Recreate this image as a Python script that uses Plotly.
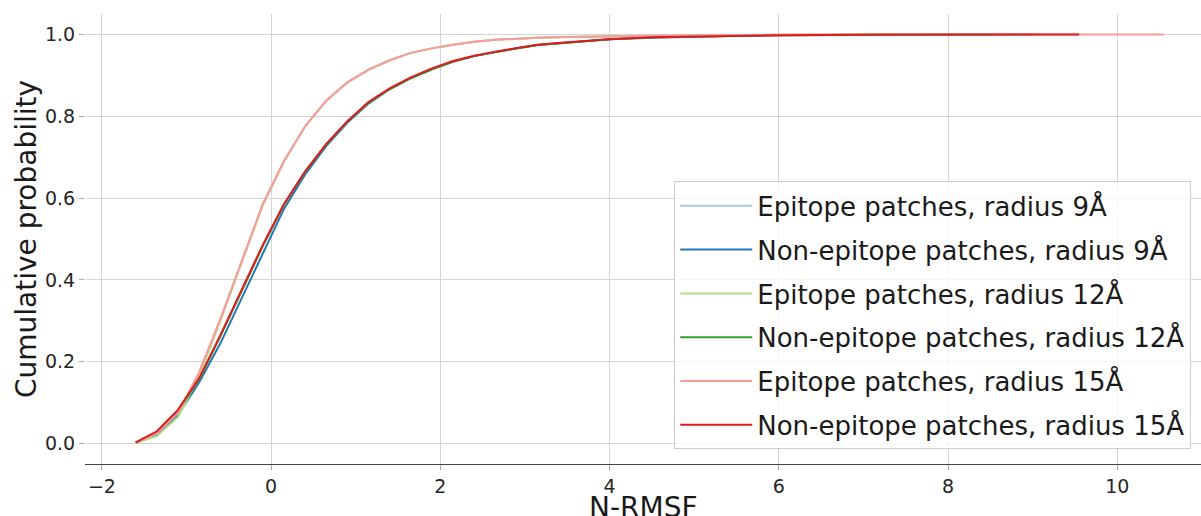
import plotly.graph_objects as go

# ---- data ----
x_common = [-1.6, -1.35, -1.1, -0.85, -0.6, -0.35, -0.1, 0.15, 0.4, 0.65, 0.9,
            1.15, 1.4, 1.65, 1.9, 2.15, 2.4, 2.65, 2.9, 3.15, 3.5, 4.0, 4.5,
            5.0, 5.5, 6.0, 7.0]

epi9_x = x_common + [7.5]
epi9_y = [0.002, 0.02, 0.068, 0.168, 0.302, 0.442, 0.583, 0.689, 0.775, 0.838, 0.883,
          0.914, 0.937, 0.955, 0.966, 0.975, 0.982, 0.987, 0.990, 0.992, 0.994, 0.996,
          0.997, 0.998, 0.999, 0.999, 1.0, 1.0]

non9_x = x_common + [8.0, 8.5]
non9_y = [0.002, 0.022, 0.07, 0.15, 0.245, 0.355, 0.465, 0.573, 0.657, 0.727, 0.784,
          0.831, 0.866, 0.893, 0.915, 0.934, 0.947, 0.957, 0.966, 0.974, 0.980, 0.988,
          0.992, 0.995, 0.997, 0.998, 0.999, 1.0, 1.0]

epi12_x = x_common + [8.0]
epi12_y = [0.002, 0.018, 0.065, 0.165, 0.3, 0.44, 0.582, 0.688, 0.775, 0.837, 0.882,
           0.913, 0.936, 0.955, 0.966, 0.975, 0.982, 0.987, 0.990, 0.992, 0.994, 0.996,
           0.997, 0.998, 0.999, 0.999, 1.0, 1.0]

non12_x = x_common + [8.0, 9.0]
non12_y = [0.003, 0.026, 0.079, 0.158, 0.262, 0.372, 0.482, 0.583, 0.664, 0.731, 0.787,
           0.833, 0.866, 0.893, 0.915, 0.933, 0.947, 0.957, 0.966, 0.974, 0.980, 0.988,
           0.993, 0.995, 0.997, 0.998, 0.999, 1.0, 1.0]

epi15_x = x_common + [8.0, 9.0, 10.55]
epi15_y = [0.003, 0.025, 0.075, 0.175, 0.305, 0.445, 0.585, 0.69, 0.775, 0.838, 0.883,
           0.914, 0.937, 0.955, 0.966, 0.975, 0.982, 0.987, 0.990, 0.992, 0.994, 0.996,
           0.997, 0.998, 0.999, 0.999, 1.0, 1.0, 1.0, 1.0]

non15_x = x_common + [8.0, 9.55]
non15_y = [0.003, 0.03, 0.083, 0.16, 0.265, 0.375, 0.485, 0.585, 0.665, 0.732, 0.788,
           0.835, 0.868, 0.895, 0.917, 0.935, 0.948, 0.958, 0.967, 0.975, 0.981, 0.988,
           0.993, 0.995, 0.997, 0.998, 0.999, 1.0, 1.0]

series_names = ["Epitope patches, radius 9Å", "Non-epitope patches, radius 9Å",
                "Epitope patches, radius 12Å", "Non-epitope patches, radius 12Å",
                "Epitope patches, radius 15Å", "Non-epitope patches, radius 15Å"]
series_colors = ["#a6cee3", "#1f78b4", "#b2df8a", "#33a02c", "#fb9a99", "#e31a1c"]

x_title = "N-RMSF"
y_title = "Cumulative probability"
x_tickvals = [-2, 0, 2, 4, 6, 8, 10]
y_tickvals = [0.0, 0.2, 0.4, 0.6, 0.8, 1.0]

series = [(epi9_x, epi9_y), (non9_x, non9_y), (epi12_x, epi12_y),
          (non12_x, non12_y), (epi15_x, epi15_y), (non15_x, non15_y)]

FONT = "DejaVu Sans"

fig = go.Figure()
for i, ((xs, ys), name, col) in enumerate(zip(series, series_names, series_colors)):
    fig.add_trace(go.Scatter(x=xs, y=ys, mode="lines", name=name,
                             legendgroup=f"g{i}",
                             line=dict(color=col, width=2)))

fig.update_layout(
    width=1201, height=516,
    margin=dict(l=85, r=0, t=14, b=52),
    paper_bgcolor="white", plot_bgcolor="white",
    font=dict(family=FONT, color="black"),
    showlegend=True,
    legend=dict(
        x=0.528, y=0.628, xanchor="left", yanchor="top",
        font=dict(family=FONT, size=26, color="#1a1a1a"),
        bgcolor="rgba(255,255,255,0.8)",
        bordercolor="#cccccc", borderwidth=1,
        tracegroupgap=7, itemwidth=72,
    ),
    xaxis=dict(
        range=[-2.2, 10.99],
        automargin=False,
        tickvals=x_tickvals,
        tickfont=dict(family=FONT, size=19, color="#262626"),
        showgrid=True, gridcolor="#d4d4d4", gridwidth=1.3,
        zeroline=False,
        showline=True, linecolor="#444444", linewidth=1,
        ticks="outside", ticklen=5, tickcolor="#aaaaaa",
    ),
    yaxis=dict(
        range=[-0.05, 1.05],
        automargin=False,
        tickvals=y_tickvals,
        tickformat=".1f",
        tickfont=dict(family=FONT, size=19, color="#262626"),
        showgrid=True, gridcolor="#d4d4d4", gridwidth=1.3,
        zeroline=False, showline=False,
        ticks="outside", ticklen=5, tickcolor="#aaaaaa",
        title=dict(text=y_title,
                   font=dict(family=FONT, size=28, color="#1a1a1a"),
                   standoff=0),
    ),
    annotations=[dict(
        text=x_title, xref="paper", yref="paper", x=0.5, y=-0.097,
        xanchor="center", yanchor="middle", showarrow=False,
        font=dict(family=FONT, size=28, color="#1a1a1a"),
    )],
)

fig.write_html("out.html")
